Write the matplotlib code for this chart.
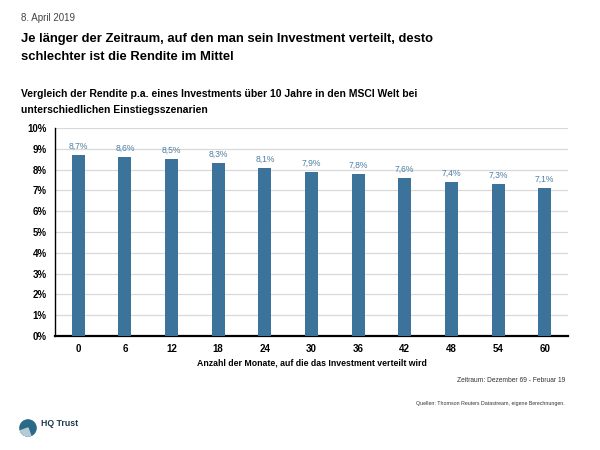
import matplotlib
matplotlib.use("Agg")
import matplotlib.pyplot as plt
from matplotlib.patches import Circle, Wedge

plt.rcParams['font.family'] = ['Liberation Sans', 'DejaVu Sans']

# Daten
monate = ['0', '6', '12', '18', '24', '30', '36', '42', '48', '54', '60']
rendite = [8.7, 8.6, 8.5, 8.3, 8.1, 7.9, 7.8, 7.6, 7.4, 7.3, 7.1]
labels = ['8,7%', '8,6%', '8,5%', '8,3%', '8,1%', '7,9%', '7,8%', '7,6%', '7,4%', '7,3%', '7,1%']
yticks = list(range(0, 11))

bar_color = '#3b739a'

fig = plt.figure(figsize=(6, 4.5), dpi=100)
ax = fig.add_axes([55/600, 1 - 336/450, 513/600, 208/450])

x = range(len(monate))
ax.bar(x, rendite, width=0.28, color=bar_color, zorder=3)
for i, v in enumerate(rendite):
    ax.text(i, v + 0.2, labels[i], ha='center', va='bottom', fontsize=6.2,
            color='#4d7fa3')

ax.set_xlim(-0.5, len(monate) - 0.5)
ax.set_ylim(0, 10)
ax.set_yticks(yticks)
ax.set_yticklabels([f'{t}%' for t in yticks], fontsize=7, fontweight='bold')
ax.set_xticks(list(x))
ax.set_xticklabels(monate, fontsize=7, fontweight='bold')
ax.tick_params(axis='both', length=0, pad=6)
ax.grid(axis='y', color='#d9d9d9', linewidth=0.9, zorder=0)
ax.spines['top'].set_visible(False)
ax.spines['right'].set_visible(False)
ax.spines['left'].set_linewidth(1.0)
ax.spines['bottom'].set_linewidth(1.6)
ax.set_xlabel('Anzahl der Monate, auf die das Investment verteilt wird',
              fontsize=6.3, fontweight='bold', labelpad=3)

# Texte oben
fig.text(21/600, 1 - 18/450, '8. April 2019', fontsize=7, color='#444444', va='center')
fig.text(21/600, 1 - 48/450,
         'Je länger der Zeitraum, auf den man sein Investment verteilt, desto\nschlechter ist die Rendite im Mittel',
         fontsize=9.4, fontweight='bold', va='center', linespacing=1.65)
fig.text(21/600, 1 - 102/450,
         'Vergleich der Rendite p.a. eines Investments über 10 Jahre in den MSCI Welt bei\nunterschiedlichen Einstiegsszenarien',
         fontsize=7.5, fontweight='bold', va='center', linespacing=1.8)

# Fußnoten
fig.text(565/600, 1 - 380/450, 'Zeitraum: Dezember 69 - Februar 19', fontsize=4.8, ha='right',
         va='center', color='#333333')
fig.text(565/600, 1 - 404/450, 'Quellen: Thomson Reuters Datastream, eigene Berechnungen.',
         fontsize=3.8, ha='right', va='center', color='#333333')

# Logo
lax = fig.add_axes([19/600, 1 - 437/450, 18/600, 18/450])
lax.set_xlim(0, 1)
lax.set_ylim(0, 1)
lax.set_aspect('equal')
lax.axis('off')
lax.add_patch(Circle((0.5, 0.5), 0.45, color='#2a6a86'))
lax.add_patch(Wedge((0.5, 0.5), 0.45, 200, 290, color='#b5ccd6'))
fig.text(41/600, 1 - 424/450, 'HQ Trust', fontsize=6.3, fontweight='bold', va='center',
         color='#1d3a4c')

fig.savefig('out.png', dpi=100)
